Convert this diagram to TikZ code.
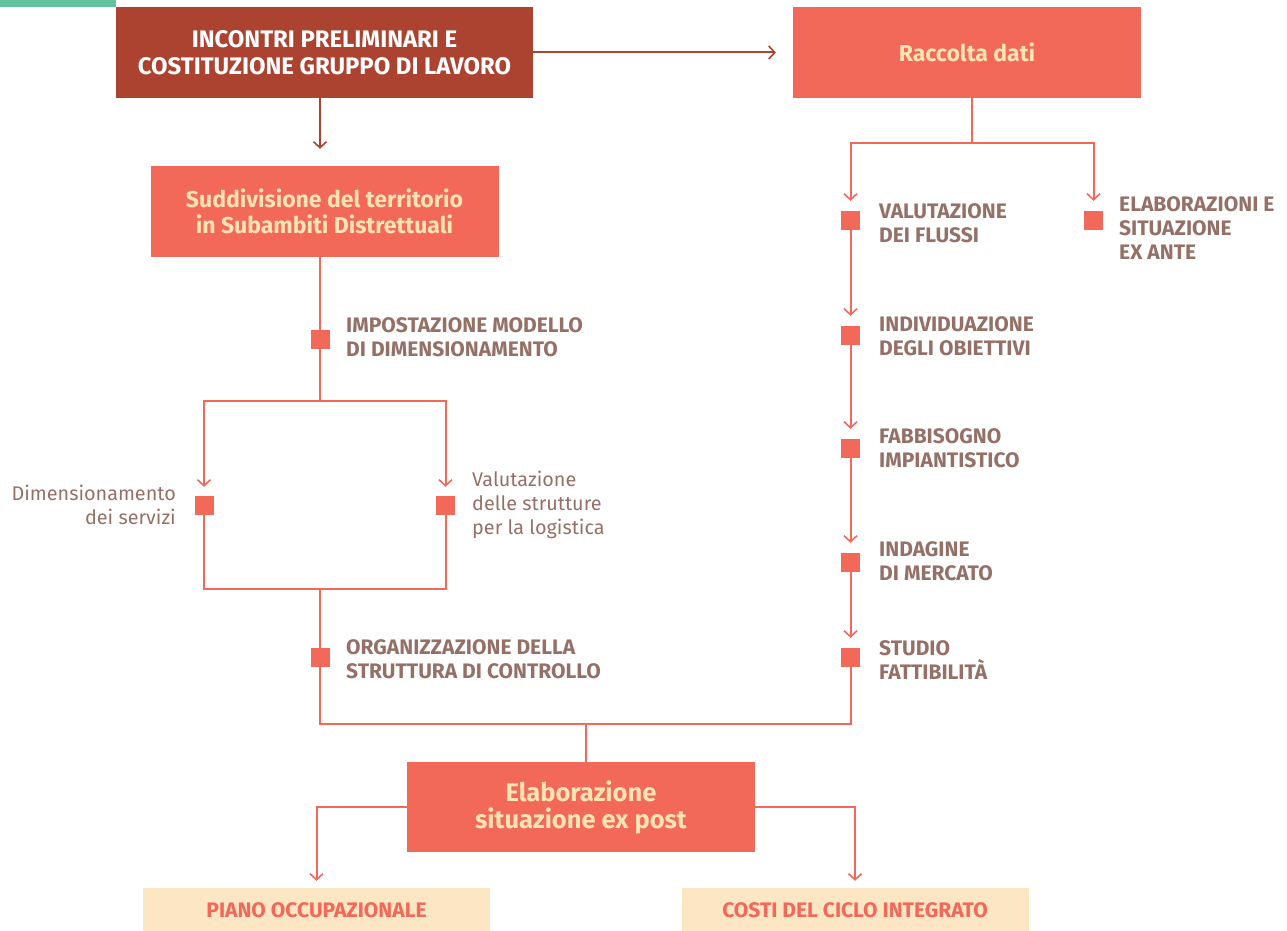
\documentclass[tikz,border=0pt]{standalone}
\usepackage{fontspec}
\setmainfont{Fira Sans}
\usetikzlibrary{arrows.meta, positioning, calc}

\definecolor{mattone}{HTML}{AB4330}
\definecolor{corallo}{HTML}{F26859}
\definecolor{crema}{HTML}{FFE3B3}
\definecolor{pesca}{HTML}{FDE6C4}
\definecolor{grigiorosa}{HTML}{957067}
\definecolor{verde}{HTML}{62C29E}

\begin{document}
\begin{tikzpicture}[
    x=1pt, y=-1pt,
    every node/.style={inner sep=0pt},
    fase/.style={
        fill=corallo,
        text=crema,
        align=center,
        minimum width=348pt,
        minimum height=91pt,
        font=\fontsize{23}{26.5}\selectfont\bfseries
    },
    esito/.style={
        fill=pesca,
        text=corallo,
        minimum width=347pt,
        minimum height=44pt,
        font=\fontsize{21}{24}\selectfont\bfseries
    },
    quadro/.style={
        fill=corallo,
        minimum size=19pt
    },
    voce/.style={
        anchor=west,
        align=left,
        text=grigiorosa,
        font=\fontsize{21}{24}\selectfont\bfseries
    },
    nota/.style={
        text=grigiorosa,
        font=\fontsize{19.8}{24}\selectfont
    },
    filo/.style={
        draw=corallo,
        line width=2pt
    },
    freccia/.style={
        filo,
        -{Straight Barb[length=6pt, width=13pt, line width=1.6pt]}
    }
]

\useasboundingbox (0,0) rectangle (1287,931);

% ============================================================
% FASI PRINCIPALI
% ============================================================

\fill[verde] (0,0) rectangle (116,7);

\node[
    fase,
    fill=mattone,
    text=white,
    minimum width=417pt,
    font=\fontsize{23.9}{26.5}\selectfont\bfseries
] (incontri) at (324.5,52.5)
{INCONTRI PRELIMINARI E\\COSTITUZIONE GRUPPO DI LAVORO};

\node[
    fase
] (raccolta) at (967,52.5)
{Raccolta dati};

\node[
    fase
] (suddiv) at (324.5,211.5)
{Suddivisione del territorio\\in Subambiti Distrettuali};

\node[
    fase,
    minimum height=90pt,
    font=\fontsize{25.5}{27}\selectfont\bfseries
] (elab) at (581,807)
{Elaborazione\\situazione ex post};

% Esiti
\node[esito] (piano) at (316.5,910) {PIANO OCCUPAZIONALE};
\node[esito] (costi) at (855,910) {COSTI DEL CICLO INTEGRATO};

% ============================================================
% RAMO SINISTRO
% ============================================================

\node[quadro] (imp) at (320,339) {};
\node[voce] (imptxt) at (346,337)
{IMPOSTAZIONE MODELLO\\DI DIMENSIONAMENTO};

\coordinate (biv) at (320,401);
\coordinate (chiusura) at (320,589);

\node[quadro] (dim) at (204,505.5) {};
\node[nota, anchor=east, align=right] (dimtxt) at (176,505)
{Dimensionamento\\dei servizi};

\node[quadro] (val) at (445.5,505.5) {};
\node[nota, anchor=west, align=left] (valtxt) at (472,505)
{Valutazione\\delle strutture\\per la logistica};

\node[quadro] (org) at (320,657.5) {};
\node[voce] (orgtxt) at (346,659)
{ORGANIZZAZIONE DELLA\\STRUTTURA DI CONTROLLO};

\coordinate (raccordo) at (586,724);

% ============================================================
% RAMO DESTRO
% ============================================================

\coordinate (ramo) at (972,143);

\node[quadro] (flussi) at (850.5,220.5) {};
\node[voce] (flussitxt) at (879,223)
{VALUTAZIONE\\DEI FLUSSI};

\node[quadro] (exante) at (1093.5,220.5) {};
\node[voce] (exantetxt) at (1119,228)
{ELABORAZIONI E\\SITUAZIONE\\EX ANTE};

\node[quadro] (obiett) at (850.5,335.5) {};
\node[voce] (obietttxt) at (879,336)
{INDIVIDUAZIONE\\DEGLI OBIETTIVI};

\node[quadro] (fabb) at (850.5,448.5) {};
\node[voce] (fabbtxt) at (879,448)
{FABBISOGNO\\IMPIANTISTICO};

\node[quadro] (indag) at (850.5,562.5) {};
\node[voce] (indagtxt) at (879,561)
{INDAGINE\\DI MERCATO};

\node[quadro] (stud) at (850.5,657.5) {};
\node[voce] (studtxt) at (879,660)
{STUDIO\\FATTIBILITÀ};

% ============================================================
% CONNESSIONI
% ============================================================

\draw[
    freccia,
    draw=mattone,
    shorten >=17pt
] (incontri.east) -- (raccolta.west);

\draw[
    freccia,
    draw=mattone,
    shorten >=17pt
] (incontri.south -| imp) -- (suddiv.north -| imp);

% sinistra
\draw[filo] (suddiv.south -| imp) -- (biv);
\draw[freccia, shorten >=9pt] (biv) -| (dim.north);
\draw[freccia, shorten >=9pt] (biv) -| (val.north);
\draw[filo] (dim) |- (chiusura) -| (val);
\draw[filo] (chiusura) -- (org) |- (raccordo);

% destra
\draw[filo] (raccolta.south -| ramo) -- (ramo);
\draw[freccia, shorten >=10pt] (ramo) -| (flussi.north);
\draw[freccia, shorten >=10pt] (ramo) -| (exante.north);
\foreach \da/\a in {flussi/obiett, obiett/fabb, fabb/indag, indag/stud}
    \draw[freccia, shorten >=10pt] (\da) -- (\a.north);
\draw[filo] (stud) |- (raccordo);

% uscita
\draw[filo] (raccordo) -- (elab.north -| raccordo);
\draw[freccia, shorten >=7pt] (elab.west) -| (piano.north);
\draw[freccia, shorten >=7pt] (elab.east) -| (costi.north);

\end{tikzpicture}
\end{document}
